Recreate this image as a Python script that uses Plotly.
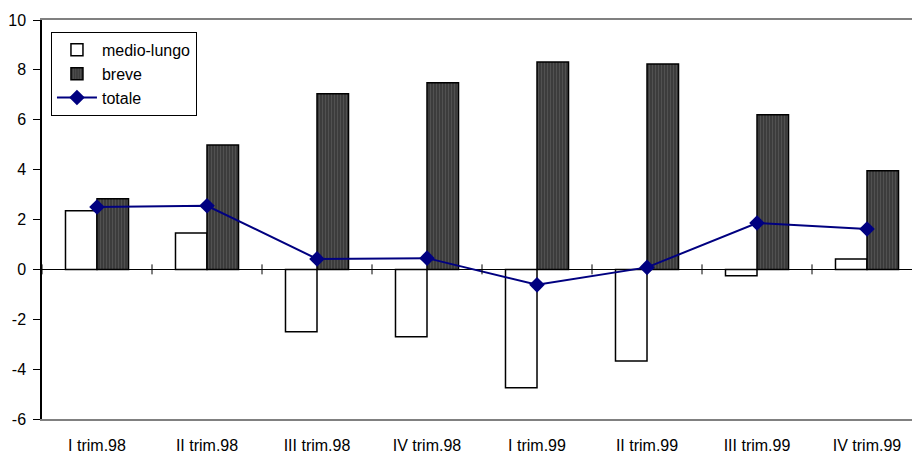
import plotly.graph_objects as go

categories = ["I trim.98", "II trim.98", "III trim.98", "IV trim.98",
              "I trim.99", "II trim.99", "III trim.99", "IV trim.99"]
medio_lungo = [2.35, 1.46, -2.5, -2.7, -4.75, -3.67, -0.26, 0.42]
breve = [2.83, 4.99, 7.04, 7.48, 8.32, 8.24, 6.2, 3.95]
totale = [2.5, 2.55, 0.42, 0.45, -0.62, 0.08, 1.86, 1.62]
y_ticks = [-6, -4, -2, 0, 2, 4, 6, 8, 10]
y_tick_labels = ["-6", "-4", "-2", "0", "2", "4", "6", "8", "10"]

xs = list(range(len(categories)))

fig = go.Figure()
fig.add_trace(go.Bar(x=xs, y=medio_lungo, name="medio-lungo",
                     marker=dict(color="white", line=dict(color="black", width=1.5))))
fig.add_trace(go.Bar(x=xs, y=breve, name="breve",
                     marker=dict(color="#3c3c3c", line=dict(color="black", width=1.5),
                                 pattern=dict(shape="|", fgcolor="#6a6a6a", bgcolor="#3c3c3c",
                                              size=3, solidity=0.3))))
fig.add_trace(go.Scatter(x=xs, y=totale, name="totale", mode="lines+markers",
                         line=dict(color="#000080", width=2),
                         marker=dict(symbol="diamond", size=12, color="#000080")))

# tick marks crossing the zero line at category boundaries
for i in range(len(categories) + 1):
    fig.add_shape(type="line", xref="x", yref="y", x0=i - 0.5, x1=i - 0.5,
                  y0=-0.2, y1=0.2, line=dict(color="black", width=1))

fig.update_layout(
    width=912, height=454,
    margin=dict(l=42, r=0, t=20, b=35),
    paper_bgcolor="white", plot_bgcolor="white",
    font=dict(family="Arial, Liberation Sans, sans-serif", size=16, color="black"),
    barmode="group", bargap=0.427, bargroupgap=0,
    showlegend=True,
    legend=dict(x=0.0103, y=0.97, xanchor="left", yanchor="top",
                bgcolor="white", bordercolor="black", borderwidth=1,
                font=dict(size=16), tracegroupgap=0, itemwidth=40),
    xaxis=dict(tickmode="array", tickvals=xs, ticktext=categories,
               range=[-0.5, 7.409], showgrid=False, automargin=False,
               showline=True, linecolor="#808080", linewidth=1.5, mirror=True,
               ticks="", zeroline=False, ticklabelstandoff=11),
    yaxis=dict(range=[-6, 10], tickmode="array", tickvals=y_ticks, ticktext=y_tick_labels,
               showgrid=False, automargin=False,
               showline=True, linecolor="black", linewidth=1.5,
               ticks="outside", ticklen=7, tickcolor="black", ticklabelstandoff=4,
               zeroline=True, zerolinecolor="black", zerolinewidth=1),
)

fig.write_html("out.html")
